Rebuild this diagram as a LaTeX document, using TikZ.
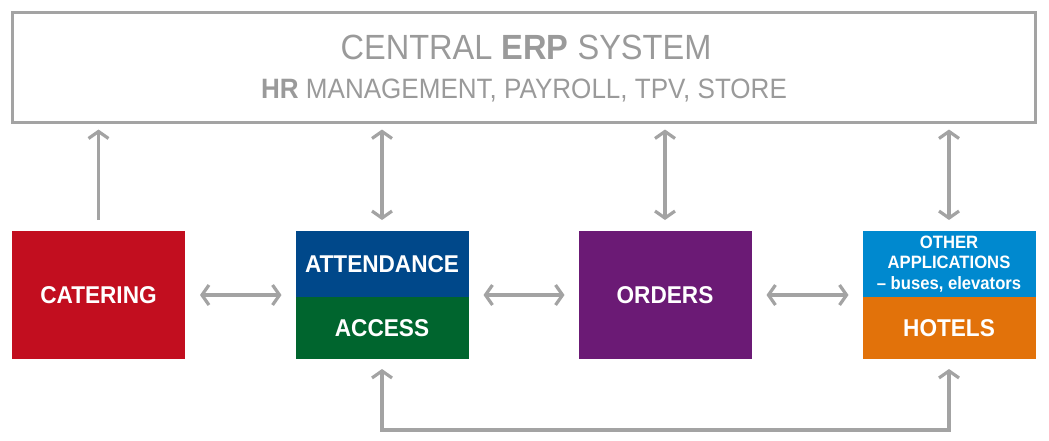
\documentclass[tikz,border=0pt]{standalone}
\usepackage{fontspec}
\setmainfont{Liberation Sans}[FakeStretch=0.93]
\usetikzlibrary{arrows.meta}
\definecolor{gline}{HTML}{A3A3A3}
\definecolor{gtext}{HTML}{9A9A9A}
\definecolor{cred}{HTML}{C20E1F}
\definecolor{cblue}{HTML}{00488A}
\definecolor{cgreen}{HTML}{00652E}
\definecolor{cpurple}{HTML}{6B1A75}
\definecolor{clblue}{HTML}{0089CF}
\definecolor{corange}{HTML}{E2720A}
\tikzset{
  box/.style={minimum width=173pt, inner sep=0pt, outer sep=0pt, text=white, font=\bfseries\fontsize{24.3}{26}\selectfont, align=center},
  arr/.style={draw=gline, line width=3.2pt, arrows={-Straight Barb[length=7pt,width=20pt]}},
  darr/.style={draw=gline, line width=3.2pt, arrows={Straight Barb[length=7pt,width=20pt]-Straight Barb[length=7pt,width=20pt]}},
}
\begin{document}
\begin{tikzpicture}[x=1pt,y=-1pt]
\useasboundingbox (0,0) rectangle (1049,440);
\node[draw=gline, line width=3pt, minimum width=1023pt, minimum height=110pt, inner sep=0pt] (erp) at (523.5,67) {};
\node[text=gtext, font=\fontsize{35}{36}\selectfont] (t1) at (526,47) {CENTRAL \textbf{ERP} SYSTEM};
\node[text=gtext, font=\fontsize{28}{30}\selectfont] (t2) at (524,91) {\textbf{HR} MANAGEMENT, PAYROLL, TPV, STORE};
\node[box, fill=cred, minimum height=128pt] (cat) at (98.5,295) {CATERING};
\node[box, fill=cblue, minimum height=66pt] (att) at (382,264) {ATTENDANCE};
\node[box, fill=cgreen, minimum height=62pt] (acc) at (382,328) {ACCESS};
\node[box, fill=cpurple, minimum height=128pt] (ord) at (665,295) {ORDERS};
\node[box, fill=clblue, minimum height=66pt, font=\bfseries\fontsize{17.9}{20.5}\selectfont] (oth) at (949,264) {OTHER\\APPLICATIONS\\– buses, elevators};
\node[box, fill=corange, minimum height=62pt] (hot) at (949,328) {HOTELS};
\draw[arr, shorten <=11pt, shorten >=6pt] (cat.north) -- (cat.north |- erp.south);
\draw[darr, shorten <=11pt, shorten >=6pt] (att.north) -- (att.north |- erp.south);
\draw[darr, shorten <=11pt, shorten >=6pt] (ord.north) -- (ord.north |- erp.south);
\draw[darr, shorten <=11pt, shorten >=6pt] (oth.north) -- (oth.north |- erp.south);
\draw[darr, shorten <=15pt, shorten >=14pt] (cat.east) -- (cat.east -| att.west);
\draw[darr, shorten <=15pt, shorten >=14pt] (att.east |- ord.west) -- (ord.west);
\draw[darr, shorten <=15pt, shorten >=14pt] (ord.east) -- (ord.east -| oth.west);
\coordinate (bl) at (382,430);
\draw[darr, shorten <=10pt, shorten >=10pt] (acc.south) -- (acc.south |- bl) -| (hot.south);
\end{tikzpicture}
\end{document}
